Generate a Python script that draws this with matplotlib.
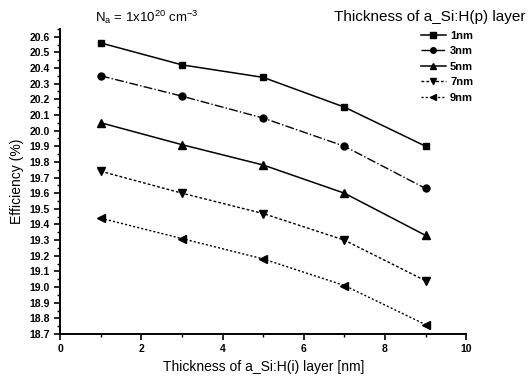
import matplotlib
matplotlib.use('Agg')
import matplotlib.pyplot as plt
from matplotlib.ticker import MultipleLocator

plt.rcParams['font.family'] = ['Liberation Sans', 'DejaVu Sans']

# thickness of i-layer (nm)
x = [1, 3, 5, 7, 9]
eff_1nm = [20.56, 20.42, 20.34, 20.15, 19.90]
eff_3nm = [20.35, 20.22, 20.08, 19.90, 19.63]
eff_5nm = [20.05, 19.91, 19.78, 19.60, 19.33]
eff_7nm = [19.74, 19.60, 19.47, 19.30, 19.04]
eff_9nm = [19.44, 19.31, 19.18, 19.01, 18.76]
labels = ['1nm', '3nm', '5nm', '7nm', '9nm']

fig = plt.figure(figsize=(5.28, 3.8), dpi=100)
ax = fig.add_axes([0.114, 0.121, 0.769, 0.803])

ax.plot(x, eff_1nm, color='black', lw=1.1, ls='-', marker='s', ms=5, label=labels[0])
ax.plot(x, eff_3nm, color='black', lw=1.0, ls='-.', marker='o', ms=5, label=labels[1])
ax.plot(x, eff_5nm, color='black', lw=1.1, ls='-', marker='^', ms=6, label=labels[2])
ax.plot(x, eff_7nm, color='black', lw=1.0, ls=(0, (2, 1.5)), marker='v', ms=6, label=labels[3])
ax.plot(x, eff_9nm, color='black', lw=1.0, ls=(0, (1.5, 1.5)), marker='<', ms=6, label=labels[4])

ax.set_xlim(0, 10)
ax.set_ylim(18.7, 20.65)
ax.xaxis.set_major_locator(MultipleLocator(2))
ax.xaxis.set_minor_locator(MultipleLocator(1))
ax.yaxis.set_minor_locator(MultipleLocator(0.05))
ax.set_yticks([18.7 + 0.1 * i for i in range(20)])
ax.set_yticklabels(['%.1f' % (18.7 + 0.1 * i) for i in range(20)])

for s in ['top', 'right']:
    ax.spines[s].set_visible(False)
ax.spines['left'].set_linewidth(1.4)
ax.spines['bottom'].set_linewidth(1.4)
ax.tick_params(which='major', direction='out', length=4, width=1.2, labelsize=7.5)
ax.tick_params(which='minor', direction='out', length=2, width=1.0)
for lab in ax.get_xticklabels() + ax.get_yticklabels():
    lab.set_fontweight('bold')

ax.set_xlabel('Thickness of a_Si:H(i) layer [nm]', fontsize=10)
ax.set_ylabel('Efficiency (%)', fontsize=10)

fig.text(0.18, 0.955, r'N$_\mathregular{a}$ = 1x10$^\mathregular{20}$ cm$^\mathregular{-3}$', fontsize=9.5, va='center')
fig.text(0.995, 0.955, 'Thickness of a_Si:H(p) layer', fontsize=11, ha='right', va='center')

leg = ax.legend(loc='upper left', bbox_to_anchor=(0.87, 1.02), frameon=False,
                fontsize=8, handlelength=2.2, labelspacing=0.5, handletextpad=0.4,
                borderpad=0.2, markerscale=0.8)
for t in leg.get_texts():
    t.set_fontweight('bold')

fig.savefig('out.png', dpi=100)
